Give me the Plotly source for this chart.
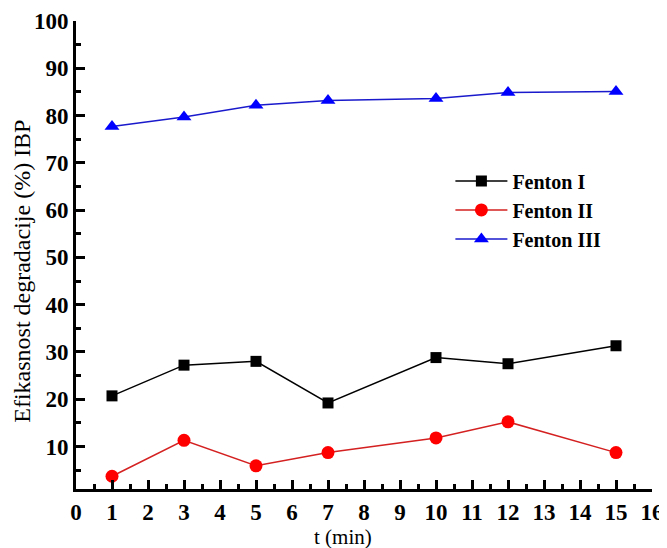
import plotly.graph_objects as go

t = [1, 3, 5, 7, 10, 12, 15]
fenton1 = [20.7, 27.2, 28.0, 19.2, 28.8, 27.5, 31.3]
fenton2 = [3.7, 11.3, 5.9, 8.7, 11.8, 15.2, 8.7]
fenton3 = [77.7, 79.7, 82.2, 83.2, 83.6, 84.9, 85.1]
names = ["Fenton I", "Fenton II", "Fenton III"]
xticks = list(range(0, 17))
yticks = list(range(10, 101, 10))
x_title = "t (min)"
y_title = "Efikasnost degradacije (%) IBP"

fig = go.Figure()
fig.add_trace(go.Scatter(x=t, y=fenton1, name=names[0], mode="lines+markers",
                         line=dict(color="black", width=1.5),
                         marker=dict(symbol="square", size=11, color="black")))
fig.add_trace(go.Scatter(x=t, y=fenton2, name=names[1], mode="lines+markers",
                         line=dict(color="#d42020", width=1.5),
                         marker=dict(symbol="circle", size=13, color="#ff0000")))
fig.add_trace(go.Scatter(x=t, y=fenton3, name=names[2], mode="lines+markers",
                         line=dict(color="#1a1acc", width=1.5),
                         marker=dict(symbol="triangle-up", size=13, color="#0000ff")))

axis_common = dict(
    showline=True, linecolor="black", linewidth=3, mirror=False,
    showgrid=False, zeroline=False, ticks="inside", ticklen=9, tickwidth=3,
    tickcolor="black", automargin=False,
    tickfont=dict(family="Liberation Serif", size=23, color="black", weight="bold"),
)

fig.update_xaxes(range=[0, 16], tickvals=xticks, ticktext=[str(v) for v in xticks],
                 minor=dict(dtick=0.5, ticks="inside", ticklen=5, tickwidth=3, tickcolor="black"),
                 **axis_common)
fig.update_yaxes(range=[1, 100], tickvals=yticks, ticktext=[str(v) for v in yticks],
                 minor=dict(dtick=5, ticks="inside", ticklen=5, tickwidth=3, tickcolor="black"),
                 **axis_common)

fig.add_annotation(text=x_title, xref="paper", yref="paper", x=0.4635, y=-0.1026,
                   xanchor="center", yanchor="middle", showarrow=False,
                   font=dict(family="Liberation Serif", size=21, color="black"))
fig.add_annotation(text=y_title, xref="paper", yref="paper", x=-0.094, y=0.466,
                   xanchor="center", yanchor="middle", showarrow=False, textangle=-90,
                   font=dict(family="Liberation Serif", size=24, color="black"))

fig.update_layout(
    width=659, height=540,
    margin=dict(l=68, r=15, t=13, b=59),
    plot_bgcolor="white", paper_bgcolor="white",
    showlegend=True,
    legend=dict(x=0.65, y=0.70, xanchor="left", yanchor="top",
                font=dict(family="Liberation Serif", size=20, color="black", weight="bold"),
                bgcolor="rgba(0,0,0,0)", itemwidth=52, tracegroupgap=0),
)

fig.write_html("out.html")
